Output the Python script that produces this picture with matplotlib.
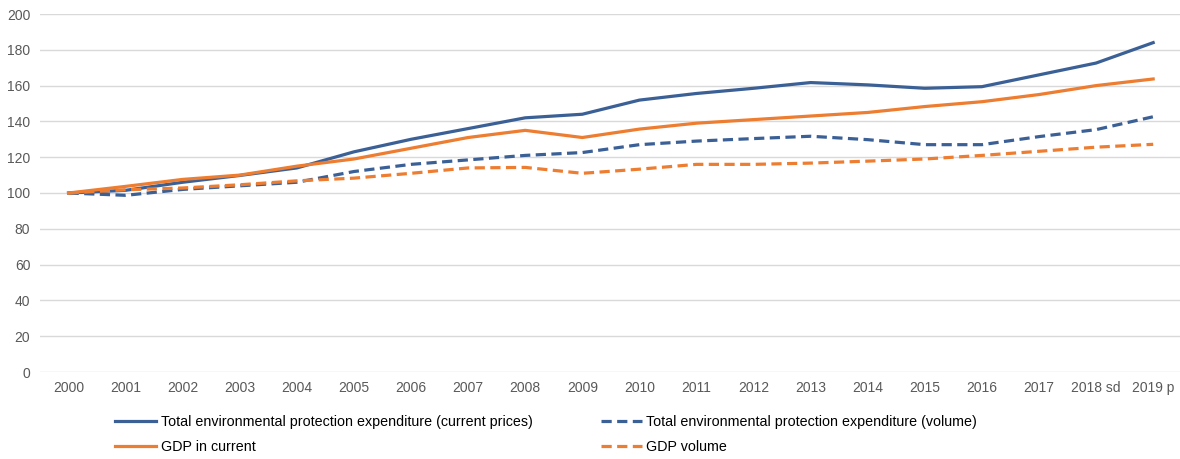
import matplotlib
matplotlib.use("Agg")
import matplotlib.pyplot as plt
import numpy as np

plt.rcParams['font.family'] = ['Liberation Sans', 'DejaVu Sans']

years = ['2000', '2001', '2002', '2003', '2004', '2005', '2006', '2007', '2008', '2009',
         '2010', '2011', '2012', '2013', '2014', '2015', '2016', '2017', '2018 sd', '2019 p']

# index, 2000 = 100
epe_current = [100, 101.5, 106, 109.8, 114, 123, 130, 136, 142, 144,
               151.9, 155.6, 158.5, 161.7, 160.4, 158.5, 159.4, 166, 172.6, 184]
epe_volume = [100, 98.7, 102, 104, 106, 112, 116, 118.5, 121, 122.6,
              127, 129, 130.4, 131.7, 129.8, 127, 127, 131.5, 135.4, 142.6]
gdp_current = [100, 103.7, 107.6, 110, 115, 119, 125, 131, 135, 131,
               135.7, 139, 141, 143, 145, 148.3, 151, 155, 160, 163.7]
gdp_volume = [100, 101.8, 102.8, 104.6, 106.8, 108.3, 111, 114, 114.3, 111,
              113.3, 116, 116, 116.7, 117.8, 119, 121, 123.3, 125.6, 127.2]

blue = '#3b6096'
orange = '#ed7d31'
grey_txt = '#595959'

W, H = 1180, 459
fig = plt.figure(figsize=(W / 100, H / 100), dpi=100)
ax = fig.add_axes([40 / W, 1 - 372 / H, 1 - 40 / W, (372 - 14) / H])

x = np.arange(len(years))
lw = 2.3
dash = (3.2, 1.7)
l1, = ax.plot(x, epe_current, color=blue, lw=lw,
              label='Total environmental protection expenditure (current prices)')
l3, = ax.plot(x, epe_volume, color=blue, lw=lw, dashes=dash,
              label='Total environmental protection expenditure (volume)')
l2, = ax.plot(x, gdp_current, color=orange, lw=lw, label='GDP in current')
l4, = ax.plot(x, gdp_volume, color=orange, lw=lw, dashes=dash, label='GDP volume')

ax.set_ylim(0, 200)
ax.set_yticks(np.arange(0, 201, 20))
ax.set_xlim(-0.5, 19.47)
ax.set_xticks(x)
ax.set_xticklabels(years)
ax.grid(axis='y', color='#d9d9d9', lw=1)
ax.set_axisbelow(True)
for s in ax.spines.values():
    s.set_visible(False)
ax.tick_params(length=0, labelsize=10, labelcolor=grey_txt)
ax.tick_params(axis='x', pad=14.4)
ax.tick_params(axis='y', pad=7)
# put every year label on one baseline, descenders or not
for t in ax.get_xticklabels():
    t.set_verticalalignment('baseline')

fig.legend(handles=[l1, l2, l3, l4], ncol=2, frameon=False,
           loc='upper left', bbox_to_anchor=(115 / W, 1 - 415 / H),
           fontsize=10.3, handlelength=2.9, handletextpad=0.3,
           columnspacing=4.75, labelspacing=0.8, borderpad=0, borderaxespad=0)

fig.savefig('out.png', dpi=100)
